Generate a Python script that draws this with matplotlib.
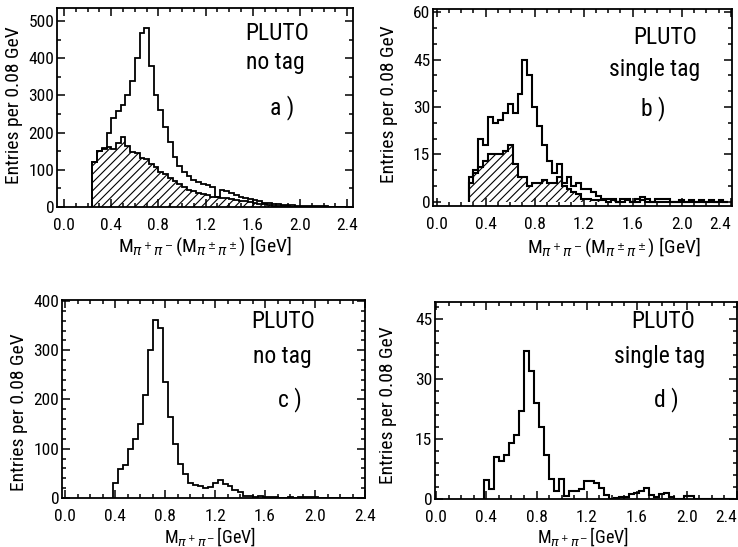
import numpy as np
import matplotlib
matplotlib.use("Agg")
import matplotlib.pyplot as plt
from matplotlib import font_manager
from matplotlib.ticker import MultipleLocator, FormatStrFormatter

# ---------------- data ----------------
BIN = 0.04

a_start = 0.24
a_total = [120, 150, 158, 200, 240, 258, 275, 300, 340, 400, 468, 482, 380, 300,
           262, 215, 175, 135, 110, 93, 82, 72, 67, 63, 59, 55, 28, 47, 42, 38,
           32, 27, 24, 21, 18, 15, 12, 10, 8, 7, 6, 5, 5, 4, 4, 3, 3, 2, 2, 2,
           1, 1, 1, 0]
a_hatched = [120, 150, 155, 160, 157, 172, 188, 165, 148, 145, 132, 128, 115, 108,
             95, 88, 78, 70, 62, 54, 46, 42, 38, 34, 31, 28, 26, 25, 23, 21,
             19, 17, 15, 13, 11, 9, 7, 5, 4, 3, 2, 2, 1, 1, 0, 0, 0, 0, 0, 0,
             0, 0, 0, 0]

b_start = 0.26
b_total = [8, 10, 20, 18, 27, 25, 26, 28, 31, 28, 34, 45, 40, 30, 24, 18, 13, 9,
           12, 6, 8, 5, 6, 4, 4, 3, 2, 1, 1, 1, 0, 1, 1, 0, 1, 1.5, 1, 0, 1, 1,
           1, 0, 0, 0.5, 0, 0.5, 0, 0.5, 0, 0.5, 0, 0.5, 0]
b_hatched = [6, 9, 11, 13, 15, 15, 15, 16, 18, 12, 8, 8, 5, 6, 6, 7, 6, 6, 8, 5,
             4, 3, 2.5, 1, 1, 0.5, 0.5, 0.5, 0, 0.5, 0, 0, 0.5, 0, 0, 0.5, 0, 0,
             0, 0, 0, 0, 0, 0, 0, 0, 0, 0, 0, 0, 0, 0, 0]

c_start = 0.38
c_total = [30, 58, 68, 100, 120, 150, 210, 300, 362, 345, 235, 165, 110, 70, 48,
           30, 27, 25, 20, 22, 30, 36, 28, 24, 16, 12, 5, 4, 3, 4, 2, 2, 3, 1, 1,
           2, 1, 2, 3, 2, 2, 1, 1, 1, 0, 0, 0, 0, 0, 0]

d_start = 0.38
d_total = [4.7, 2.4, 10.5, 9.5, 11, 14, 16, 22, 37, 32, 24, 18, 11, 5, 2, 5, 0.8,
           2, 2, 2.5, 4.5, 4.5, 4, 2.7, 1, 0, 0.3, 0.6, 0.6, 1.2, 1.5, 2.1, 2.7,
           1, 0.4, 1.3, 1.6, 0.5, 0, 0, 0.8, 0.8, 0, 0, 0, 0, 0, 0, 0, 0]

x_ticks = [0.0, 0.4, 0.8, 1.2, 1.6, 2.0, 2.4]
ylabel = "Entries per 0.08 GeV"
xlabel_ab = r"M$_{\pi^+\pi^-}$(M$_{\pi^\pm\pi^\pm}$) [GeV]"
xlabel_cd = r"M$_{\pi^+\pi^-}$[GeV]"

# ---------------- style ----------------
names = {f.name for f in font_manager.fontManager.ttflist}
FONT = "DejaVu Sans"
for cand in ["Liberation Sans Narrow", "Roboto Condensed", "Open Sans Condensed", "DejaVu Sans"]:
    if cand in names:
        FONT = cand
        break
plt.rcParams["font.family"] = [FONT, "DejaVu Sans"]
plt.rcParams["mathtext.fontset"] = "dejavusans"
plt.rcParams["hatch.linewidth"] = 0.8

W, H = 738, 547
fig = plt.figure(figsize=(W / 100, H / 100), dpi=100)


def add_axes(l, t, r, b):
    return fig.add_axes([l / W, 1 - b / H, (r - l) / W, (b - t) / H])


def setup(ax, xlim, ylim, ymaj, ymin, last_right=False):
    ax.set_xlim(*xlim)
    ax.set_ylim(*ylim)
    ax.set_xticks(x_ticks)
    ax.xaxis.set_minor_locator(MultipleLocator(0.1))
    ax.xaxis.set_major_formatter(FormatStrFormatter("%.1f"))
    ax.yaxis.set_major_locator(MultipleLocator(ymaj))
    ax.yaxis.set_minor_locator(MultipleLocator(ymin))
    ax.yaxis.set_major_formatter(FormatStrFormatter("%d"))
    ax.tick_params(which="both", direction="in", top=True, right=True,
                   width=1.1, colors="black")
    ax.tick_params(which="major", length=6)
    ax.tick_params(axis="x", which="major", pad=8, labelsize=12.5)
    ax.tick_params(axis="y", which="major", pad=2, labelsize=12.5)
    ax.tick_params(which="minor", length=3)
    for s in ax.spines.values():
        s.set_linewidth(1.3)
    if last_right:
        fig.canvas.draw()
        labs = ax.get_xticklabels()
        labs[-1].set_horizontalalignment("right")


def edges(start, vals):
    return start + BIN * np.arange(len(vals) + 1)


def ftext(x, y, s, size=16, rot=0):
    fig.text(x / W, 1 - y / H, s, ha="center", va="center", fontsize=size,
             rotation=rot)


# panel a
ax = add_axes(57, 8, 353, 207)
setup(ax, (-0.06, 2.45), (0, 535), 100, 50)
ax.stairs(a_hatched, edges(a_start, a_hatched), fill=True, facecolor="white",
          edgecolor="black", hatch="////", lw=1.3)
ax.stairs(a_total, edges(a_start, a_total), color="black", lw=1.3)

# panel b
ax = add_axes(433, 9, 732, 206)
setup(ax, (-0.03, 2.41), (-1.3, 61), 15, 5, last_right=True)
ax.stairs(b_hatched, edges(b_start, b_hatched), fill=True, facecolor="white",
          edgecolor="black", hatch="////", lw=1.5)
ax.stairs(b_total, edges(b_start, b_total), color="black", lw=1.5)

# panel c
ax = add_axes(62, 300, 365, 498)
setup(ax, (-0.024, 2.40), (0, 402), 100, 20)
ax.stairs(c_total, edges(c_start, c_total), color="black", lw=1.3)

# panel d
ax = add_axes(435, 302, 737, 499)
setup(ax, (-0.01, 2.40), (0, 49.3), 15, 3, last_right=True)
ax.stairs(d_total, edges(d_start, d_total), color="black", lw=1.5)

# annotations
ftext(277, 33, "PLUTO", size=17)
ftext(275, 63, "no tag", size=17)
ftext(282, 108, "a )", size=17)
ftext(665, 37, "PLUTO", size=17)
ftext(655, 69, "single tag", size=17)
ftext(653, 109, "b )", size=17)
ftext(283, 322, "PLUTO", size=17)
ftext(282, 357, "no tag", size=17)
ftext(290, 400, "c )", size=17)
ftext(663, 322, "PLUTO", size=17)
ftext(660, 357, "single tag", size=17)
ftext(666, 400, "d )", size=17)

# axis titles
ftext(14, 105, ylabel, size=14, rot=90)
ftext(389, 104, ylabel, size=14, rot=90)
ftext(19, 412, ylabel, size=14, rot=90)
ftext(388, 405, ylabel, size=14, rot=90)
ftext(205, 246, xlabel_ab, size=14)
ftext(614, 247, xlabel_ab, size=14)
ftext(210, 537, xlabel_cd, size=13)
ftext(583, 537, xlabel_cd, size=13)

fig.savefig("out.png", dpi=100)
